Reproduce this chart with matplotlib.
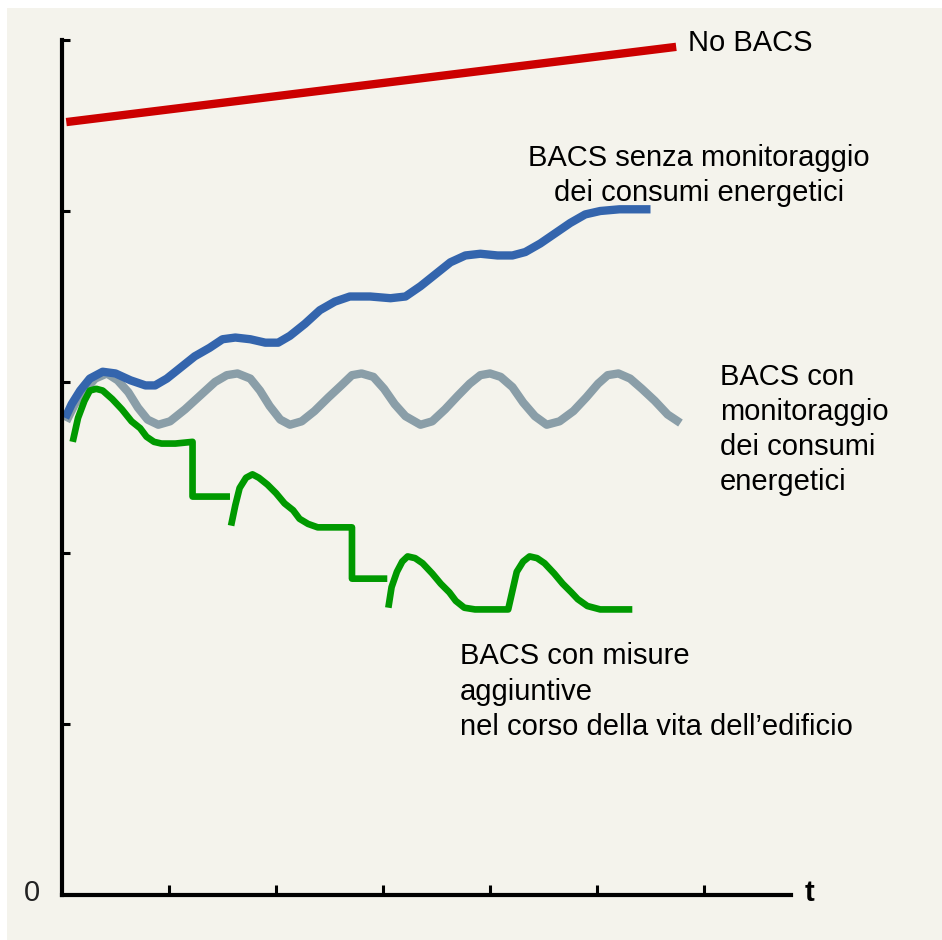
import numpy as np
import matplotlib.pyplot as plt
from matplotlib.patches import Rectangle

# valori (unità: t = passo dei tick, y = passo dei tick)
no_bacs_t = [0.04, 5.74]
no_bacs_y = [4.52, 4.96]

senza_t = [0.03, 0.09, 0.17, 0.26, 0.38, 0.50, 0.64, 0.78, 0.87, 0.98, 1.10, 1.24,
           1.38, 1.50, 1.62, 1.76, 1.90, 2.02, 2.13, 2.27, 2.41, 2.55, 2.69, 2.88,
           3.07, 3.21, 3.35, 3.49, 3.63, 3.77, 3.91, 4.07, 4.21, 4.33, 4.47, 4.61,
           4.75, 4.89, 5.03, 5.21, 5.50]
senza_y = [2.79, 2.87, 2.95, 3.02, 3.06, 3.05, 3.01, 2.98, 2.98, 3.02, 3.08, 3.15,
           3.20, 3.25, 3.26, 3.25, 3.23, 3.23, 3.27, 3.34, 3.42, 3.47, 3.50, 3.50,
           3.49, 3.50, 3.56, 3.63, 3.70, 3.74, 3.75, 3.74, 3.74, 3.76, 3.81, 3.87,
           3.93, 3.98, 4.00, 4.01, 4.01]

con_t = [0.04, 0.12, 0.21, 0.31, 0.42, 0.52, 0.62, 0.71, 0.80, 0.90, 1.01, 1.15,
         1.29, 1.43, 1.54, 1.64, 1.76, 1.85, 1.94, 2.04, 2.13, 2.24, 2.36, 2.49,
         2.61, 2.71, 2.80, 2.91, 3.01, 3.11, 3.21, 3.35, 3.46, 3.58, 3.70, 3.81,
         3.91, 4.00, 4.10, 4.21, 4.31, 4.42, 4.53, 4.65, 4.78, 4.90, 5.01, 5.10,
         5.20, 5.31, 5.42, 5.54, 5.66, 5.78]
con_y = [2.77, 2.87, 2.95, 3.02, 3.05, 3.01, 2.94, 2.85, 2.78, 2.75, 2.77, 2.84,
         2.92, 3.00, 3.04, 3.05, 3.02, 2.95, 2.86, 2.78, 2.75, 2.77, 2.83, 2.91,
         2.98, 3.04, 3.05, 3.03, 2.96, 2.87, 2.80, 2.75, 2.77, 2.84, 2.92, 2.99,
         3.04, 3.05, 3.03, 2.97, 2.88, 2.80, 2.75, 2.77, 2.83, 2.91, 2.99, 3.04,
         3.05, 3.02, 2.96, 2.89, 2.81, 2.76]

# misure aggiuntive: tre tratti separati da nan
misure_t = [0.10, 0.15, 0.21, 0.26, 0.32, 0.38, 0.47, 0.56, 0.65, 0.73, 0.79, 0.86,
            0.93, 1.06, 1.22, 1.22, 1.57, np.nan,
            1.58, 1.62, 1.66, 1.72, 1.78, 1.84, 1.92, 2.00, 2.08, 2.16, 2.22, 2.30,
            2.39, 2.55, 2.71, 2.71, 3.04, np.nan,
            3.05, 3.08, 3.13, 3.18, 3.23, 3.30, 3.37, 3.46, 3.54, 3.62, 3.68, 3.76,
            3.86, 4.00, 4.17, 4.21, 4.25, 4.31, 4.37, 4.44, 4.51, 4.60, 4.68, 4.76,
            4.82, 4.91, 5.03, 5.33]
misure_y = [2.65, 2.79, 2.89, 2.95, 2.96, 2.95, 2.90, 2.84, 2.77, 2.73, 2.68, 2.65,
            2.64, 2.64, 2.65, 2.33, 2.33, np.nan,
            2.16, 2.28, 2.38, 2.44, 2.46, 2.44, 2.40, 2.35, 2.29, 2.25, 2.20, 2.17,
            2.15, 2.15, 2.15, 1.85, 1.85, np.nan,
            1.68, 1.80, 1.89, 1.95, 1.98, 1.97, 1.94, 1.88, 1.82, 1.77, 1.72, 1.68,
            1.67, 1.67, 1.67, 1.78, 1.89, 1.95, 1.98, 1.97, 1.94, 1.88, 1.82, 1.77,
            1.73, 1.69, 1.67, 1.67]

labels = {
    "no": "No BACS",
    "senza": "BACS senza monitoraggio\ndei consumi energetici",
    "con": "BACS con\nmonitoraggio\ndei consumi\nenergetici",
    "misure": "BACS con misure\naggiuntive\nnel corso della vita dell\u2019edificio",
}

BG = "#f4f3ec"
plt.rcParams["font.family"] = ["Liberation Sans", "DejaVu Sans"]

fig = plt.figure(figsize=(9.42, 9.40), dpi=100)
fig.patch.set_facecolor("white")
fig.patches.append(Rectangle((7 / 942, 0), 1, 932 / 940, transform=fig.transFigure,
                             facecolor=BG, edgecolor="none", zorder=-10))

ax = fig.add_axes([62 / 942, 45 / 940, 729 / 942, 855 / 940])
ax.set_zorder(5)
ax.set_facecolor("none")
ax.set_xlim(0, 729 / 107)
ax.set_ylim(0, 5)

lw = 6
ax.plot(no_bacs_t, no_bacs_y, color="#cc0000", lw=lw, solid_capstyle="butt", clip_on=False)
ax.plot(con_t, con_y, color="#8a9ea8", lw=lw, solid_capstyle="butt",
        solid_joinstyle="round", clip_on=False)
ax.plot(senza_t, senza_y, color="#3465ad", lw=lw, solid_capstyle="butt",
        solid_joinstyle="round", clip_on=False)
ax.plot(misure_t, misure_y, color="#009900", lw=4.8, solid_capstyle="butt",
        solid_joinstyle="round", clip_on=False)

fs = 21
ls = 1.32
ax.text(5.85, 4.98, labels["no"], fontsize=fs, ha="left", va="center")
ax.text(5.95, 4.21, labels["senza"], fontsize=fs, ha="center", va="center",
        multialignment="center", linespacing=ls)
ax.text(6.15, 2.72, labels["con"], fontsize=fs, ha="left", va="center", linespacing=ls)
ax.text(3.72, 1.19, labels["misure"], fontsize=fs, ha="left", va="center", linespacing=ls)

ax.text(-0.28, 0.01, "0", fontsize=fs, ha="center", va="center", color="#222222")
ax.text(6.99, 0.01, "t", fontsize=fs, ha="center", va="center", fontweight="bold")

for side in ["top", "right"]:
    ax.spines[side].set_visible(False)
for side in ["left", "bottom"]:
    ax.spines[side].set_linewidth(3)
    ax.spines[side].set_capstyle("projecting")

ax.set_xticks(np.arange(1, 7))
ax.set_yticks(np.arange(1, 6))
ax.tick_params(axis="x", direction="in", length=7, width=2.2, labelbottom=False)
ax.tick_params(axis="y", direction="in", length=6, width=2.2, labelleft=False)

fig.savefig("out.png", dpi=100, facecolor=fig.get_facecolor())
